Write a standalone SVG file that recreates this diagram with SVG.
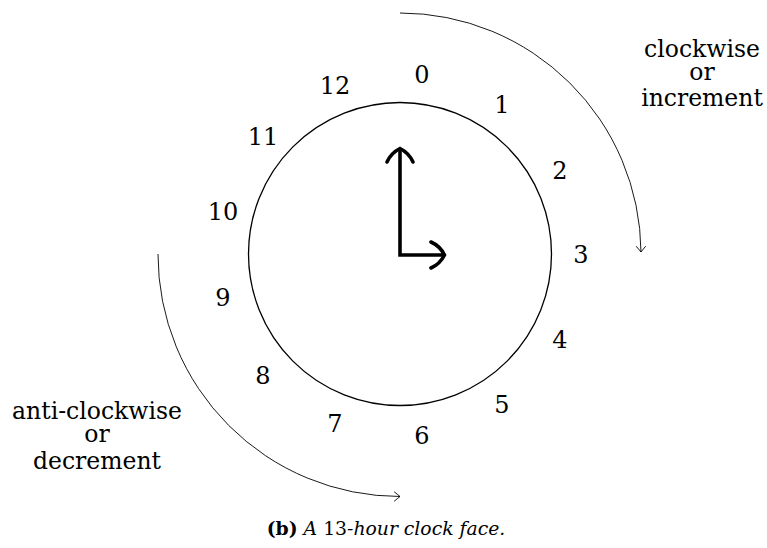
<svg xmlns="http://www.w3.org/2000/svg" width="767" height="548" viewBox="0 0 767 548">
<defs>
<style>
.t{font-family:'DejaVu Serif','Liberation Serif',serif;fill:#000}
.num{font-size:24px;text-anchor:middle}
.lbl{font-size:23.5px;text-anchor:middle}
.cap{font-size:18.8px;text-anchor:middle}
.arc{fill:none;stroke:#000;stroke-width:0.9}
.hand{fill:none;stroke:#000;stroke-width:3.6;stroke-linecap:round;stroke-linejoin:miter}
</style>
<marker id="to" markerUnits="userSpaceOnUse" markerWidth="14" markerHeight="14" refX="0" refY="0" viewBox="-8 -7 10 14" orient="auto" overflow="visible">
<path d="M -5.5,-4.5 Q -1.5,-1.2 0,0 Q -1.5,1.2 -5.5,4.5" fill="none" stroke="#000" stroke-width="0.9" stroke-linecap="round"/>
</marker>
</defs>
<rect width="767" height="548" fill="#fff"/>
<g id="clock-face">
<circle cx="400" cy="254" r="151.5" fill="none" stroke="#000" stroke-width="1.3"/>
</g>
<g id="hands">
<path class="hand" d="M 400,150 L 400,255 L 443,255"/>
<path class="hand" d="M 387,162 Q 391,153 400,148.5 Q 409,153 413,162"/>
<path class="hand" d="M 431,242 Q 440,246 444.5,255 Q 440,264 431,268"/>
</g>
<g id="numbers">
<text class="t num" x="422" y="83">0</text>
<text class="t num" x="502" y="113">1</text>
<text class="t num" x="560" y="179">2</text>
<text class="t num" x="581" y="263">3</text>
<text class="t num" x="560" y="348">4</text>
<text class="t num" x="502" y="413">5</text>
<text class="t num" x="422" y="444">6</text>
<text class="t num" x="335" y="432">7</text>
<text class="t num" x="263" y="384">8</text>
<text class="t num" x="223" y="306">9</text>
<text class="t num" x="223" y="220">10</text>
<text class="t num" x="263" y="145">11</text>
<text class="t num" x="335" y="94">12</text>
</g>
<g id="connectors">
<path class="arc" d="M 400,13 A 241,241 0 0 1 641,252" marker-end="url(#to)"/>
<path class="arc" d="M 158,254 A 242,242 0 0 0 400,496.5" marker-end="url(#to)"/>
</g>
<g id="label-clockwise">
<text class="t lbl" x="702" y="57">clockwise</text>
<text class="t lbl" x="702" y="80">or</text>
<text class="t lbl" x="702" y="106">increment</text>
</g>
<g id="label-anticlockwise">
<text class="t lbl" x="97" y="419">anti-clockwise</text>
<text class="t lbl" x="97" y="442">or</text>
<text class="t lbl" x="97" y="469">decrement</text>
</g>
<g id="caption">
<text class="t cap" x="386" y="535"><tspan font-weight="bold">(b)</tspan> <tspan font-style="italic">A</tspan> 13<tspan font-style="italic">-hour clock face.</tspan></text>
</g>
</svg>
